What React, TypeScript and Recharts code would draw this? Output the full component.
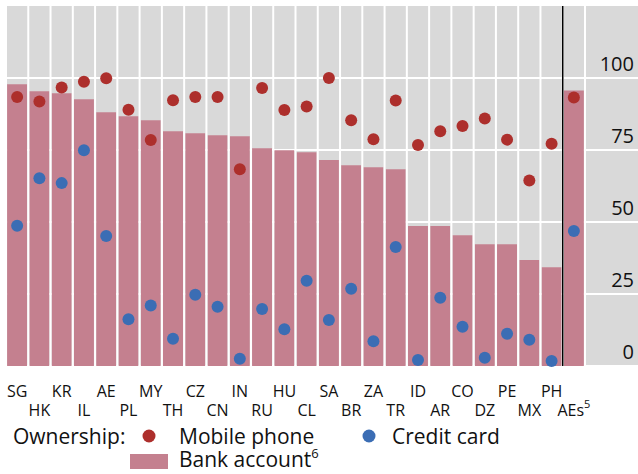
import React from "react";
import {
  Bar,
  CartesianGrid,
  ComposedChart,
  Legend,
  Line,
  ReferenceLine,
  XAxis,
  YAxis,
} from "recharts";

const countries = [
  "SG", "HK", "KR", "IL", "AE", "PL", "MY", "TH", "CZ", "CN", "IN", "RU", "HU",
  "CL", "SA", "BR", "ZA", "TR", "ID", "AR", "CO", "DZ", "PE", "MX", "PH", "AEs",
];

const bankAccount = [
  97.8, 95.4, 94.7, 92.6, 88.1, 86.7, 85.3, 81.5, 80.8, 80.1, 79.8, 75.6, 74.9,
  74.2, 71.5, 69.7, 69.0, 68.3, 48.6, 48.6, 45.4, 42.3, 42.3, 36.8, 34.3, 95.7,
];

const mobilePhone = [
  93.4, 91.8, 96.7, 98.7, 99.9, 89.0, 78.5, 92.3, 93.4, 93.4, 68.3, 96.5, 88.9,
  90.1, 100, 85.3, 78.7, 92.2, 76.7, 81.5, 83.3, 85.9, 78.6, 64.4, 77.2, 93.2,
];

const creditCard = [
  48.7, 65.2, 63.5, 74.9, 45.1, 16.2, 21.0, 9.5, 24.7, 20.6, 2.5, 19.8, 12.8,
  29.6, 16.0, 26.8, 8.6, 41.3, 2.1, 23.7, 13.6, 2.9, 11.2, 9.1, 1.7, 46.9,
];

const yTicks = [0, 25, 50, 75, 100];

const COLORS = {
  bank: "#c4808f",
  mobile: "#ad2f2c",
  credit: "#3b6db4",
  bg: "#d9d9d9",
};

const FONT = "'Open Sans', sans-serif";

const data = countries.map((c, i) => ({
  country: c,
  bank: bankAccount[i],
  mobile: mobilePhone[i],
  credit: creditCard[i],
}));

const CountryTick = ({ x, y, payload }: any) => {
  const label: string = payload.value;
  const second = payload.index % 2 === 1;
  const isAEs = label === "AEs";
  return (
    <text
      x={x}
      y={y + (second ? 42 : 23)}
      textAnchor="middle"
      fontSize={16}
      fontFamily={FONT}
      fill="#111"
    >
      {label}
      {isAEs && (
        <tspan dy={-8} fontSize={11}>
          5
        </tspan>
      )}
    </text>
  );
};

const ValueTick = ({ x, y, payload }: any) => (
  <text
    x={634}
    y={y - 7}
    textAnchor="end"
    fontSize={20}
    fontFamily={FONT}
    fill="#111"
  >
    {payload.value}
  </text>
);

const LegendBox = () => (
  <svg width={638} height={54} style={{ display: "block" }}>
    <g fontFamily={FONT} fontSize={21} fill="#111">
      <text x={13} y={24}>
        Ownership:
      </text>
      <circle cx={149} cy={16} r={6.5} fill={COLORS.mobile} />
      <text x={179} y={24}>
        Mobile phone
      </text>
      <circle cx={369} cy={16} r={6.5} fill={COLORS.credit} />
      <text x={392} y={24}>
        Credit card
      </text>
      <rect x={130} y={34} width={38} height={15} fill={COLORS.bank} />
      <text x={179} y={47}>
        Bank account
        <tspan dy={-9} fontSize={13}>
          6
        </tspan>
      </text>
    </g>
  </svg>
);

export default function App() {
  return (
    <div style={{ position: "absolute", left: 0, top: 0, width: 638, height: 474 }}>
      <ComposedChart
        width={638}
        height={474}
        data={data}
        margin={{ top: 6, right: 0, bottom: 0, left: 6 }}
        barCategoryGap="5%"
      >
        <CartesianGrid
          fill={COLORS.bg}
          stroke="#fff"
          strokeWidth={2}
          vertical={false}
          horizontalValues={yTicks}
        />
        <XAxis
          dataKey="country"
          interval={0}
          height={108}
          axisLine={false}
          tickLine={false}
          padding={{ left: 0, right: 53 }}
          tick={<CountryTick />}
        />
        <YAxis
          orientation="right"
          mirror
          domain={[0, 125]}
          ticks={yTicks}
          axisLine={false}
          tickLine={false}
          tick={<ValueTick />}
        />
        <Legend
          layout="horizontal"
          verticalAlign="middle"
          wrapperStyle={{ top: 420, left: 0, width: 638 }}
          content={<LegendBox />}
        />
        <Bar dataKey="bank" fill={COLORS.bank} isAnimationActive={false} />
        {countries.map((c) => (
          <ReferenceLine
            key={c}
            x={c}
            position="start"
            stroke="#fff"
            strokeWidth={2}
          />
        ))}
        <ReferenceLine x="AEs" position="end" stroke="#fff" strokeWidth={2} />
        <ReferenceLine x="AEs" position="start" stroke="#000" strokeWidth={1.5} />
        <Line
          dataKey="mobile"
          stroke="none"
          dot={{ r: 6, fill: COLORS.mobile, stroke: "none" }}
          activeDot={false}
          isAnimationActive={false}
        />
        <Line
          dataKey="credit"
          stroke="none"
          dot={{ r: 6, fill: COLORS.credit, stroke: "none" }}
          activeDot={false}
          isAnimationActive={false}
        />
      </ComposedChart>
    </div>
  );
}
